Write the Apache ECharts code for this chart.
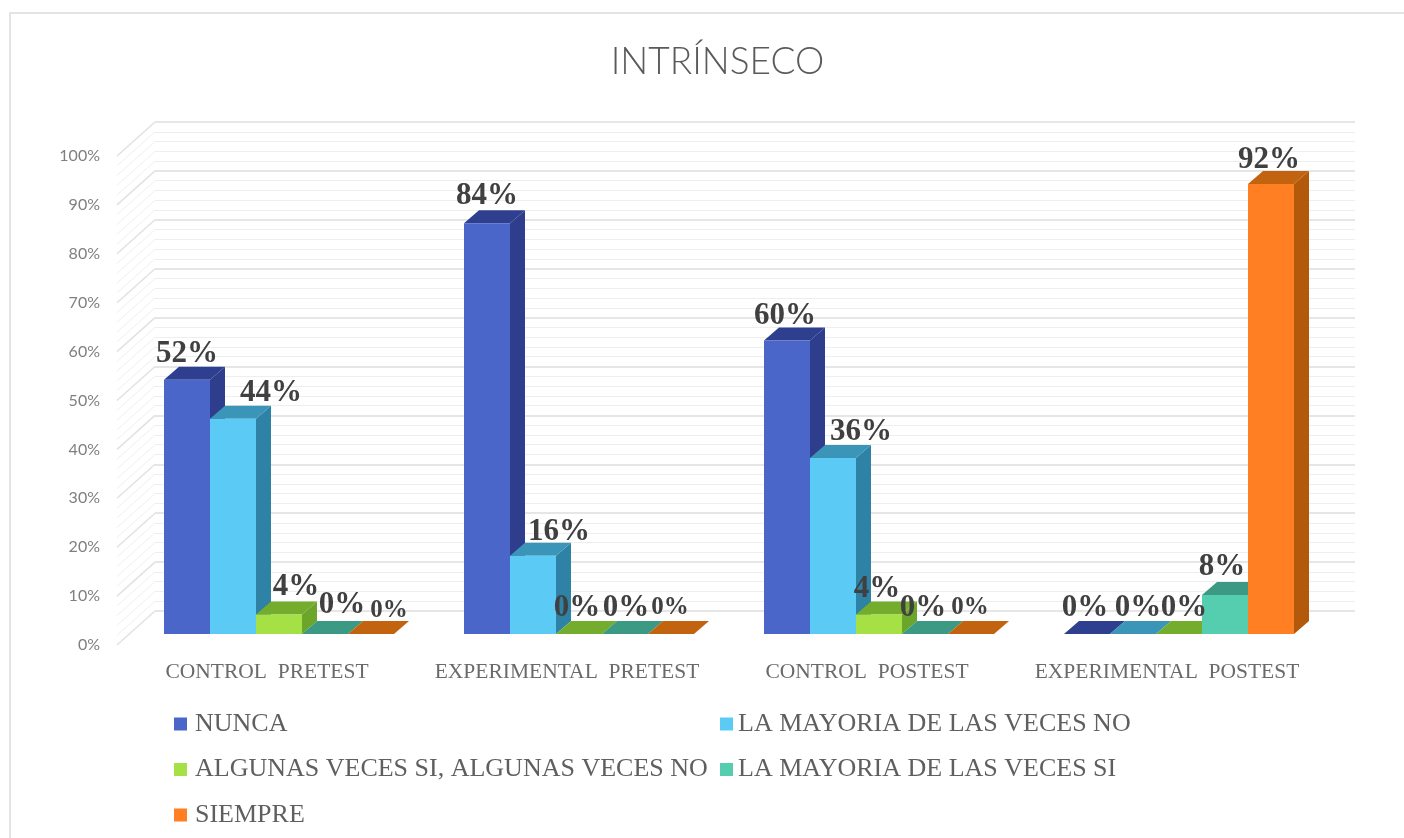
<!DOCTYPE html>
<html><head><meta charset="utf-8">
<style>html,body{margin:0;padding:0;background:#fff}#c{width:1404px;height:838px}</style>
<script src="https://cdn.jsdelivr.net/npm/echarts@6/dist/echarts.min.js"></script>
</head><body><div id="c"></div>
<script>
const categories = ['CONTROL  PRETEST','EXPERIMENTAL  PRETEST','CONTROL  POSTEST','EXPERIMENTAL  POSTEST'];
const seriesNames = ['NUNCA','LA MAYORIA DE LAS VECES NO','ALGUNAS VECES SI, ALGUNAS VECES NO','LA MAYORIA DE LAS VECES SI','SIEMPRE'];
const nunca = [52,84,60,0];
const mayoriaNo = [44,16,36,0];
const algunas = [4,0,4,0];
const mayoriaSi = [0,0,0,8];
const siempre = [0,0,0,92];
const seriesValues = [nunca,mayoriaNo,algunas,mayoriaSi,siempre];
const yTicks = [0,10,20,30,40,50,60,70,80,90,100];
const yMinorTicks = [2,4,6,8,12,14,16,18,22,24,26,28,32,34,36,38,42,44,46,48,52,54,56,58,62,64,66,68,72,74,76,78,82,84,86,88,92,94,96,98];

// styles
const frontColors = ['#4a66c9','#5bcbf6','#a5e045','#55ceb0','#ff7f22'];
const sideColors  = ['#2e3e8c','#2e82a6','#6ba62a','#37917b','#b2590c'];
const topColors   = ['#2e3f90','#3a95b8','#74ad2e','#3c9a84','#c2630f'];
// label nudges [dx,dy] from the default spot above each bar
const labelNudges = [
  [[0,0],[0,-1],[-2,1],[-2,0]],
  [[38,0],[26,2],[28,0],[5,0]],
  [[17,-1],[-2,0],[-2,1],[5,0]],
  [[17,-3],[1,0],[-2,0],[-3,-2]],
  [[18,3],[-1,0],[-1,0],[-2,2]]
];
const labelSizes = [
  [31,31,31,31],[31,31,31,31],[31,31,31,31],[31,31,31,31],[25,25,25,31]
];
const BAR_W = 46, INSET_X = 12, INSET_Y = 11, DEPTH_X = 15, DEPTH_Y = 13;
const WALL_X = 38, WALL_Y = 34;

function barSeries(i){
  return {
    type:'custom', name:seriesNames[i], xAxisIndex:0, yAxisIndex:0, z:5,
    itemStyle:{color:frontColors[i]},
    encode:{x:0,y:1},
    data:seriesValues[i].map((v,k)=>[k,v]),
    renderItem(params,api){
      const k=api.value(0), v=api.value(1);
      const top=api.coord([k,v]), base=api.coord([k,0]);
      const x0=top[0]+INSET_X+(i-2.5)*BAR_W, x1=x0+BAR_W;
      const yT=top[1]-INSET_Y, yB=base[1]-INSET_Y;
      const poly=(pts,fill)=>({type:'polygon',shape:{points:pts},style:{fill:fill}});
      const n=labelNudges[i][k];
      return {type:'group',children:[
        poly([[x1,yT],[x1+DEPTH_X,yT-DEPTH_Y],[x1+DEPTH_X,yB-DEPTH_Y],[x1,yB]],sideColors[i]),
        poly([[x0,yT],[x0+DEPTH_X,yT-DEPTH_Y],[x1+DEPTH_X,yT-DEPTH_Y],[x1,yT]],topColors[i]),
        poly([[x0,yT],[x1,yT],[x1,yB],[x0,yB]],frontColors[i]),
        {type:'text',z2:100,style:{
          x:x0+BAR_W/2+n[0], y:yT-26+n[1], text:v+'%', align:'center', verticalAlign:'middle',
          font:'bold '+labelSizes[i][k]+'px "Liberation Serif"', fill:'#404040'}}
      ]};
    }
  };
}
function sideWall(ticks,color,width){
  return {
    type:'custom', xAxisIndex:0, yAxisIndex:0, z:1, silent:true,
    encode:{y:0}, data:ticks.map(t=>[t]),
    renderItem(params,api){
      const y=api.coord([0,api.value(0)])[1], x=params.coordSys.x;
      return {type:'line',shape:{x1:x,y1:y,x2:x+WALL_X,y2:y-WALL_Y},style:{stroke:color,lineWidth:width}};
    }
  };
}
const chart=echarts.init(document.getElementById('c'),null,{renderer:'canvas'});
const legendBase={color:'#5f5f5f',fontFamily:'Liberation Serif',fontSize:26,lineHeight:25};
chart.setOption({
  animation:false, backgroundColor:'#fff',
  title:{text:'INTRÍNSECO',left:712.5,textAlign:'center',top:39,textStyle:{fontFamily:'Lato',fontWeight:300,fontSize:37,color:'#5a5a5a'}},
  graphic:[{type:'polyline',silent:true,shape:{points:[[10,838],[10,13],[1404,13]]},style:{stroke:'#dcdcdc',lineWidth:1.5,fill:null}}],
  grid:[
    {left:117,top:156,width:1200,height:489},
    {left:155,top:122,width:1200,height:489}
  ],
  xAxis:[
    {type:'category',gridIndex:0,data:categories,axisLine:{show:false},axisTick:{show:false},
     axisLabel:{margin:16,interval:0,fontFamily:'Liberation Serif',fontSize:21.5,color:'#6a6a6a'}},
    {type:'category',gridIndex:1,data:categories,show:false}
  ],
  yAxis:[
    {type:'value',gridIndex:0,min:0,max:100,interval:10,axisLine:{show:false},axisTick:{show:false},splitLine:{show:false},
     axisLabel:{margin:17,formatter:'{value}%',fontFamily:'Lato',fontSize:16,color:'#7f7f7f'}},
    {type:'value',gridIndex:1,min:0,max:100,interval:10,axisLine:{show:false},axisTick:{show:false},axisLabel:{show:false},
     splitLine:{show:true,lineStyle:{color:'#dedede',width:1.5}},
     minorTick:{show:false,splitNumber:5},minorSplitLine:{show:true,lineStyle:{color:'#eeeeee',width:1}}}
  ],
  legend:[
    {left:169,top:706,orient:'vertical',icon:'rect',itemWidth:13,itemHeight:13,itemGap:19.5,selectedMode:false,
     textStyle:Object.assign({padding:[0,0,0,3]},legendBase),
     data:[seriesNames[0],seriesNames[2],seriesNames[4]]},
    {left:715,top:706,orient:'vertical',icon:'rect',itemWidth:13,itemHeight:13,itemGap:19.5,selectedMode:false,
     textStyle:Object.assign({padding:[0,0,0,0]},legendBase),
     data:[seriesNames[1],seriesNames[3]]}
  ],
  series:[sideWall(yMinorTicks,'#f0f0f0',1),sideWall(yTicks,'#e2e2e2',1.5)].concat(seriesNames.map((_,i)=>barSeries(i)))
});
</script></body></html>
